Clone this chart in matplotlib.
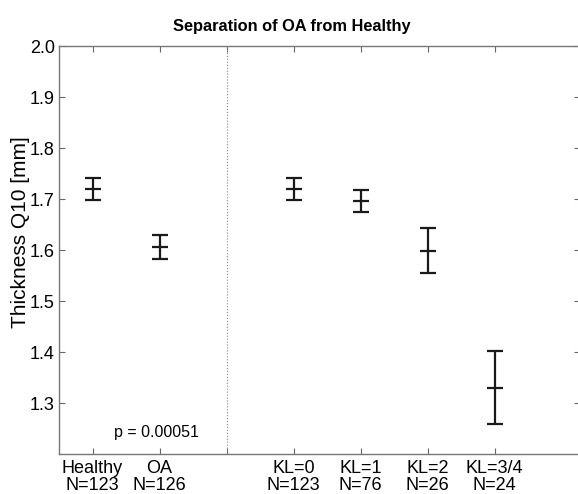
import matplotlib
matplotlib.use("Agg")
import matplotlib.pyplot as plt

plt.rcParams['font.family'] = ['Liberation Sans', 'DejaVu Sans']

# group labels and means / half-widths
groups = ["Healthy\nN=123", "OA\nN=126", "", "KL=0\nN=123", "KL=1\nN=76", "KL=2\nN=26", "KL=3/4\nN=24"]
pos = [1, 2, 4, 5, 6, 7]
means = [1.720, 1.606, 1.720, 1.696, 1.599, 1.330]
errs = [0.021, 0.024, 0.021, 0.022, 0.044, 0.071]
yticks = [1.3, 1.4, 1.5, 1.6, 1.7, 1.8, 1.9, 2.0]
p_text = "p = 0.00051"

fig = plt.figure(figsize=(5.78, 4.94), dpi=100)
ax = fig.add_axes([59/578, 1 - 454/494, 521/578, 408/494])

ax.errorbar(pos, means, yerr=errs, fmt='_', color='#1a1a1a', ecolor='#1a1a1a',
            elinewidth=1.6, capsize=6, capthick=1.6, markersize=12, markeredgewidth=1.6)

ax.axvline(3, color='#888888', linestyle=':', linewidth=0.8)

ax.set_xlim(0.5, 0.5 + 521/67)
ax.set_ylim(1.2, 2.0)
ax.set_xticks(range(1, 8))
ax.set_xticklabels(groups, fontsize=13, linespacing=1.0)
ax.set_yticks(yticks)
ax.set_yticklabels(["%.1f" % v for v in yticks], fontsize=13)
ax.tick_params(direction='in', length=4, width=0.8, color='#666666',
               top=True, right=True, pad=3)
ax.tick_params(axis='x', pad=4)
for s in ax.spines.values():
    s.set_color('#777777')
    s.set_linewidth(1.0)

ax.set_ylabel("Thickness Q10 [mm]", fontsize=15)
ax.yaxis.set_label_coords(-0.056, 0.544)
ax.text(1.95, 1.243, p_text, ha='center', va='center', fontsize=11.5)
fig.text(292/578, 1 - 26/494, "Separation of OA from Healthy", ha='center', va='center',
         fontsize=11.8, fontweight='bold')

fig.savefig("out.png", dpi=100)
